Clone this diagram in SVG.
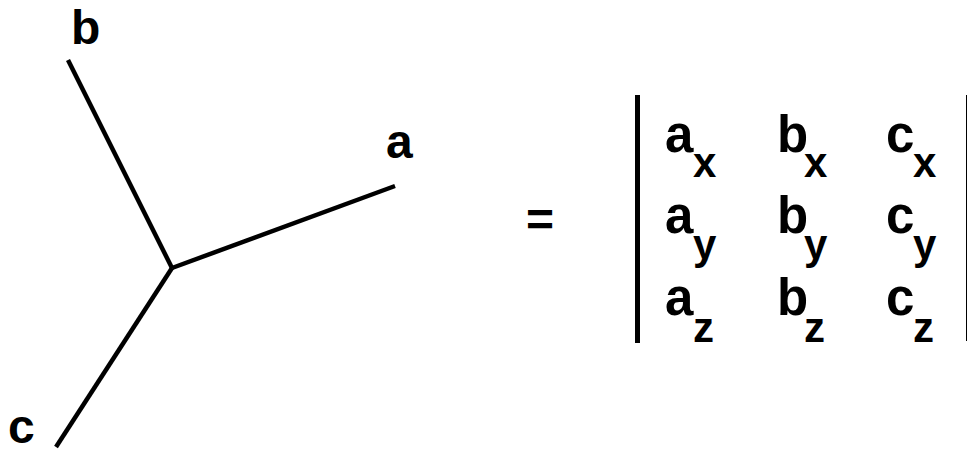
<svg xmlns="http://www.w3.org/2000/svg" width="967" height="453" viewBox="0 0 967 453">
<style>
.t{font-family:"Liberation Sans",Arial,sans-serif;font-weight:bold;fill:#000}
.m{font-size:51px}
.s{font-size:42px}
.l{font-size:48px}
.e{stroke:#000;stroke-width:4.5;fill:none}
</style>
<rect width="967" height="453" fill="#fff"/>
<g id="connectors">
<line class="e" x1="172" y1="268" x2="68" y2="60"/>
<line class="e" x1="172" y1="268" x2="395" y2="186"/>
<line class="e" x1="172" y1="268" x2="56" y2="447"/>
</g>
<g id="node-a"><text class="t l" x="386" y="158">a</text></g>
<g id="node-b"><text class="t l" x="71" y="44">b</text></g>
<g id="node-c"><text class="t l" x="8" y="443">c</text></g>
<g id="equals"><text class="t l" x="526" y="236">=</text></g>
<g id="matrix">
<rect x="635" y="95" width="5" height="248" fill="#000"/>
<rect x="966" y="95" width="5" height="246" fill="#000"/>
<text class="t m" x="665" y="152">a</text><text class="t s" x="693" y="177">x</text>
<text class="t m" x="777" y="152">b</text><text class="t s" x="804" y="177">x</text>
<text class="t m" x="886" y="152">c</text><text class="t s" x="913" y="177">x</text>
<text class="t m" x="665" y="233">a</text><text class="t s" x="693" y="259">y</text>
<text class="t m" x="777" y="233">b</text><text class="t s" x="804" y="259">y</text>
<text class="t m" x="886" y="233">c</text><text class="t s" x="913" y="259">y</text>
<text class="t m" x="665" y="315">a</text><text class="t s" x="693" y="342">z</text>
<text class="t m" x="777" y="315">b</text><text class="t s" x="804" y="342">z</text>
<text class="t m" x="886" y="315">c</text><text class="t s" x="913" y="342">z</text>
</g>
</svg>
